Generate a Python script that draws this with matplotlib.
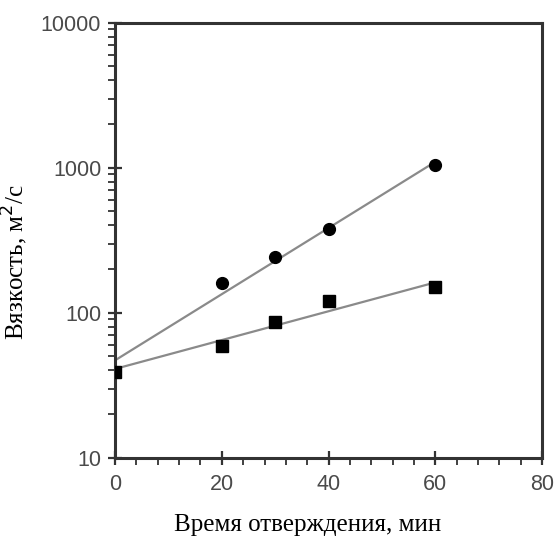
import matplotlib
matplotlib.use('Agg')
import matplotlib.pyplot as plt
from matplotlib.ticker import LogLocator, MultipleLocator, FixedLocator

# data
t_circle = [20, 30, 40, 60]
v_circle = [160, 243, 380, 1040]
t_square = [0, 20, 30, 40, 60]
v_square = [39, 59, 87, 120, 151]
# fitted lines (end points)
fit_t = [0, 60]
fit_circle = [47, 1100]
fit_square = [41, 162]

xticks = [0, 20, 40, 60, 80]
yticks = [10, 100, 1000, 10000]
ytick_labels = ['10', '100', '1000', '10000']

fig = plt.figure(figsize=(5.56, 5.43), dpi=100)
ax = fig.add_axes([0.207, 0.157, 0.768, 0.801])

ax.plot(fit_t, fit_circle, color='#8a8a8a', lw=1.6, zorder=2)
ax.plot(fit_t, fit_square, color='#8a8a8a', lw=1.6, zorder=2)
ax.plot(t_circle, v_circle, 'o', color='black', ms=8.5, zorder=3)
ax.plot(t_square, v_square, 's', color='black', ms=8, zorder=3)

ax.set_yscale('log')
ax.set_xlim(0, 80)
ax.set_ylim(10, 10000)
ax.xaxis.set_major_locator(FixedLocator(xticks))
ax.xaxis.set_minor_locator(MultipleLocator(4))
ax.yaxis.set_major_locator(FixedLocator(yticks))
ax.yaxis.set_minor_locator(LogLocator(base=10, subs=range(2, 10)))
ax.set_yticklabels(ytick_labels)
ax.yaxis.set_minor_formatter(plt.NullFormatter())

for s in ax.spines.values():
    s.set_linewidth(2.2)
    s.set_color('#333333')
ax.tick_params(which='major', direction='inout', length=10, width=1.6,
               color='#333333', labelsize=15.5, labelcolor='#4a4a4a',
               labelfontfamily='Liberation Sans')
ax.tick_params(which='minor', direction='out', length=5, width=1.3,
               color='#333333')
ax.tick_params(axis='x', pad=7)
ax.tick_params(axis='y', pad=5)

ax.set_xlabel('Время отверждения, мин', family='Liberation Serif', fontsize=18)
ax.xaxis.set_label_coords(0.45, -0.13)
ax.set_ylabel('Вязкость, м$^2$/с', family='Liberation Serif', fontsize=18)
ax.yaxis.set_label_coords(-0.2, 0.45)

fig.savefig('out.png', dpi=100)
